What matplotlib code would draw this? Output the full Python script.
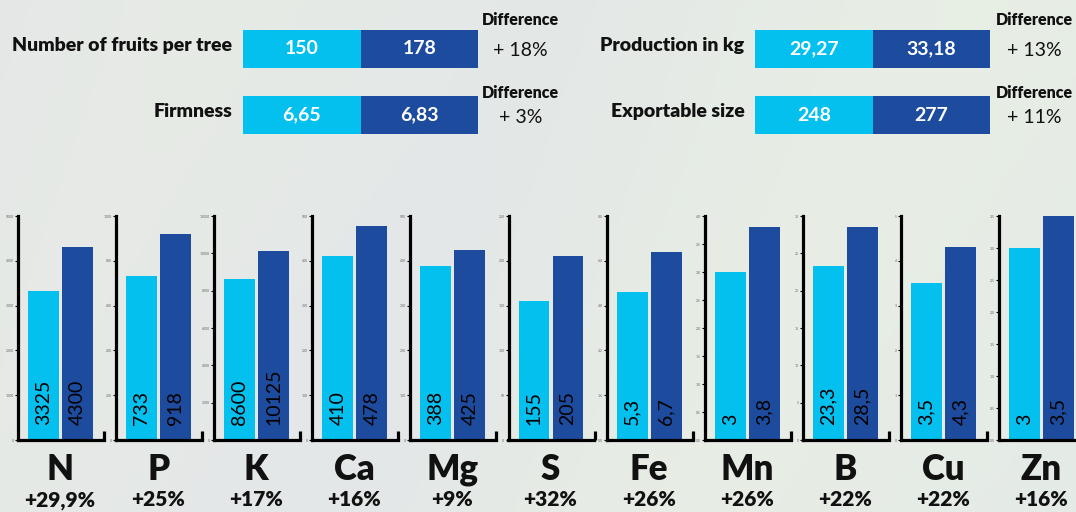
import matplotlib.pyplot as plt
import numpy as np

plt.rcParams['font.family'] = ['Lato', 'DejaVu Sans']

# top comparison rows
top_left_labels = ["Number of fruits per tree", "Firmness"]
top_left_before = ["150", "6,65"]
top_left_after = ["178", "6,83"]
top_left_diff = ["+ 18%", "+ 3%"]

top_right_labels = ["Production in kg", "Exportable size"]
top_right_before = ["29,27", "248"]
top_right_after = ["33,18", "277"]
top_right_diff = ["+ 13%", "+ 11%"]

# nutrient panels
elements = ["N", "P", "K", "Ca", "Mg", "S", "Fe", "Mn", "B", "Cu", "Zn"]
before = [3325, 733, 8600, 410, 388, 155, 5.3, 3, 23.3, 3.5, 3]
after = [4300, 918, 10125, 478, 425, 205, 6.7, 3.8, 28.5, 4.3, 3.5]
before_lbl = ["3325", "733", "8600", "410", "388", "155", "5,3", "3", "23,3", "3,5", "3"]
after_lbl = ["4300", "918", "10125", "478", "425", "205", "6,7", "3,8", "28,5", "4,3", "3,5"]
changes = ["+29,9%", "+25%", "+17%", "+16%", "+9%", "+32%", "+26%", "+26%", "+22%", "+22%", "+16%"]
axis_max = [5000, 1000, 12000, 500, 500, 250, 8, 4.0, 30, 5, 3.5]
n_ticks = [5, 5, 6, 5, 5, 5, 5, 8, 6, 5, 7]

LIGHT = "#03c0ef"
DARK = "#1d4c9f"
INK = "#111111"

W, H = 1076, 512
fig = plt.figure(figsize=(W / 100, H / 100), dpi=100)


def px_axes(x0, y0, x1, y1, **kw):
    # pixel box (top-left origin) -> figure axes
    return fig.add_axes([x0 / W, 1 - y1 / H, (x1 - x0) / W, (y1 - y0) / H], **kw)


# soft background
bg = px_axes(0, 0, W, H)
gx = np.linspace(0, 1, 200)
gy = np.linspace(0, 1, 100)
X, Y = np.meshgrid(gx, gy)
c1 = np.array([0.89, 0.90, 0.91])
c2 = np.array([0.93, 0.95, 0.88])
c3 = np.array([0.90, 0.93, 0.90])
w = 0.5 + 0.5 * np.sin(X * 9 + Y * 2)
img = (c1[None, None, :] * (1 - X[..., None]) + c3[None, None, :] * X[..., None]) * 0.7 \
    + c2[None, None, :] * (0.3 * w[..., None]) + 0.3 * (1 - w[..., None]) * c1[None, None, :]
bg.imshow(np.clip(img, 0, 1), aspect='auto', extent=[0, 1, 0, 1])
bg.set_axis_off()

diff_offset = [-0.44, -0.34]


def top_group(x0, x1, labels, b, a, d, diff_x):
    ax = px_axes(x0, 30, x1, 134)
    ax.set_xlim(0, 2)
    ax.set_ylim(1.286, -0.286)
    rows = np.arange(len(labels))
    ax.barh(rows, [1] * len(rows), left=0, height=0.57, color=LIGHT)
    ax.barh(rows, [1] * len(rows), left=1, height=0.57, color=DARK)
    for i in rows:
        ax.text(0.5, i, b[i], color="white", ha="center", va="center", fontsize=14, fontweight="bold")
        ax.text(1.5, i, a[i], color="white", ha="center", va="center", fontsize=14, fontweight="bold")
        ax.text(-0.09, i - 0.05, labels[i], ha="right", va="center", fontsize=14, fontweight="heavy", color=INK)
        ax.text(diff_x, i + diff_offset[i], "Difference", ha="center", va="center", fontsize=11.5,
                fontweight="heavy", color=INK)
        ax.text(diff_x, i + 0.03, d[i], ha="center", va="center", fontsize=14, color=INK)
    ax.set_axis_off()


top_group(243, 478, top_left_labels, top_left_before, top_left_after, top_left_diff, 2.36)
top_group(755, 990, top_right_labels, top_right_before, top_right_after, top_right_diff, 2.38)

for i, el in enumerate(elements):
    x0 = 18 + i * 98.1
    ax = px_axes(x0, 216, x0 + 86, 440)
    ax.patch.set_alpha(0)
    ax.bar([0, 1], [before[i], after[i]], width=0.91, color=[LIGHT, DARK])
    ax.set_xlim(-0.75, 1.78)
    ax.set_ylim(0, axis_max[i])
    ax.set_yticks(np.linspace(0, axis_max[i], n_ticks[i] + 1))
    ax.tick_params(axis='y', labelsize=2.5, length=2, width=0.8, labelcolor="#666666", pad=1)
    ax.set_xticks([])
    for s in ["top", "right"]:
        ax.spines[s].set_visible(False)
    for s in ["left", "bottom"]:
        ax.spines[s].set_linewidth(2.3)
        ax.spines[s].set_color("black")
    ax.plot([1, 1], [0, 0.04], transform=ax.transAxes, color="black", lw=2.3, clip_on=False,
            solid_capstyle="butt")
    ax.text(0, axis_max[i] * 0.065, before_lbl[i], rotation=90, ha="center", va="bottom", fontsize=14)
    ax.text(1, axis_max[i] * 0.065, after_lbl[i], rotation=90, ha="center", va="bottom", fontsize=14)
    cx = (x0 + 42) / W
    fig.text(cx, 1 - 470 / H, el, ha="center", va="center", fontsize=25, fontweight="heavy", color=INK)
    fig.text(cx, 1 - 500 / H, changes[i], ha="center", va="center", fontsize=15, fontweight="heavy", color=INK)

fig.savefig("out.png", dpi=100)
